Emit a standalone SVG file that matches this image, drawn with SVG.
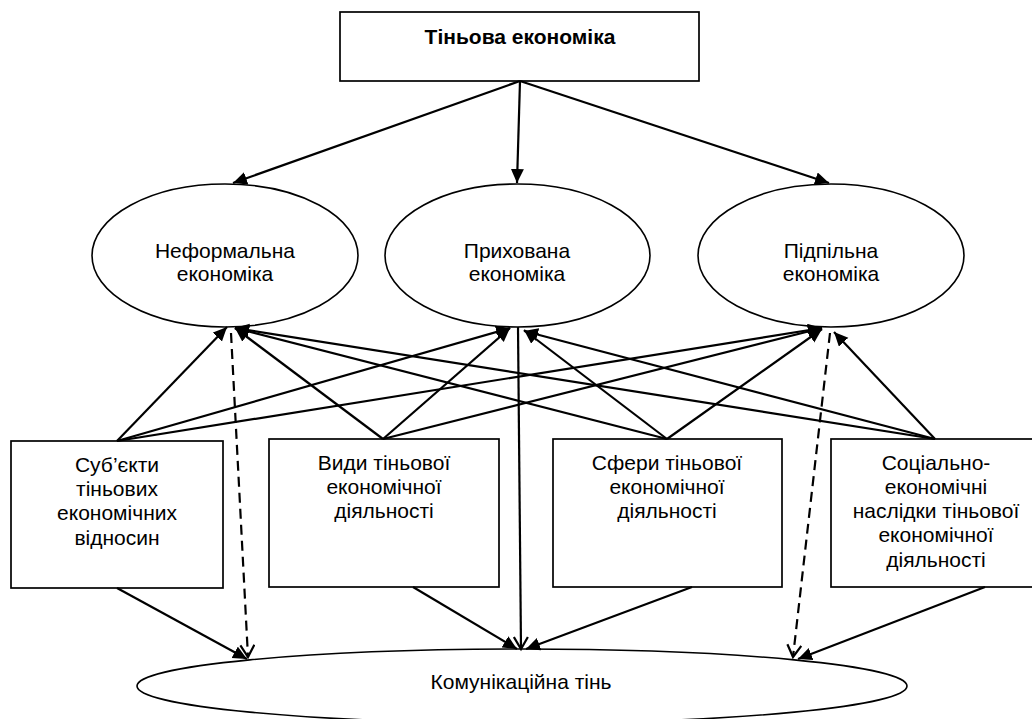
<svg xmlns="http://www.w3.org/2000/svg" width="1032" height="719" viewBox="0 0 1032 719">
<defs>
<style>
.box{fill:#fff;stroke:#000;stroke-width:1.7}
.ell{fill:#fff;stroke:#000;stroke-width:1.6}
.t{font-family:"Liberation Sans",Arial,sans-serif;font-size:21px;fill:#000;text-anchor:middle}
.b{font-weight:bold}
.c{fill:none;stroke:#000;stroke-width:2.2}
.d{stroke-dasharray:10 6}
</style>
<marker id="fa" markerUnits="userSpaceOnUse" markerWidth="16" markerHeight="14" refX="14" refY="6.5" orient="auto">
<path d="M0,0 L14,6.5 L0,13 z" fill="#000"/>
</marker>
<marker id="oa" markerUnits="userSpaceOnUse" markerWidth="16" markerHeight="16" refX="13" refY="8" orient="auto">
<path d="M1,1 L13,8 L1,15" fill="none" stroke="#000" stroke-width="2.2"/>
</marker>
</defs>
<rect width="1032" height="719" fill="#fff"/>

<g id="bottom-ellipse">
<ellipse class="ell" cx="522" cy="686" rx="385" ry="37"/>
<text class="t" x="521" y="689">Комунікаційна тінь</text>
</g>

<g id="top">
<rect class="box" x="340" y="12" width="359" height="69"/>
<text class="t b" x="520" y="44">Тіньова економіка</text>
</g>

<g id="informal">
<ellipse class="ell" cx="225" cy="255.5" rx="133" ry="71.5"/>
<text class="t" x="225" y="258">Неформальна</text>
<text class="t" x="225" y="281">економіка</text>
</g>
<g id="hidden">
<ellipse class="ell" cx="517.5" cy="255.5" rx="132.5" ry="71.5"/>
<text class="t" x="517" y="258">Прихована</text>
<text class="t" x="517" y="281">економіка</text>
</g>
<g id="underground">
<ellipse class="ell" cx="831" cy="255.5" rx="133" ry="71.5"/>
<text class="t" x="831" y="258">Підпільна</text>
<text class="t" x="831" y="281">економіка</text>
</g>

<g id="subjects">
<rect class="box" x="11" y="441" width="212" height="147"/>
<text class="t" x="117" y="472">Суб’єкти</text>
<text class="t" x="117" y="496">тіньових</text>
<text class="t" x="117" y="520">економічних</text>
<text class="t" x="117" y="545">відносин</text>
</g>
<g id="types">
<rect class="box" x="269" y="439" width="230" height="148"/>
<text class="t" x="384" y="470">Види тіньової</text>
<text class="t" x="384" y="494">економічної</text>
<text class="t" x="384" y="518">діяльності</text>
</g>
<g id="spheres">
<rect class="box" x="553" y="439" width="229" height="148"/>
<text class="t" x="667" y="470">Сфери тіньової</text>
<text class="t" x="667" y="494">економічної</text>
<text class="t" x="667" y="518">діяльності</text>
</g>
<g id="consequences">
<rect class="box" x="831" y="439" width="215" height="148"/>
<text class="t" x="936" y="470">Соціально-</text>
<text class="t" x="936" y="494">економічні</text>
<text class="t" x="936" y="518">наслідки тіньової</text>
<text class="t" x="936" y="542">економічної</text>
<text class="t" x="936" y="567">діяльності</text>
</g>

<g id="connectors">
<line class="c" x1="520" y1="81" x2="233" y2="183" marker-end="url(#fa)"/>
<line class="c" x1="520" y1="81" x2="517" y2="183" marker-end="url(#fa)"/>
<line class="c" x1="520" y1="81" x2="829" y2="183" marker-end="url(#fa)"/>

<line class="c" x1="117" y1="441" x2="227" y2="327" marker-end="url(#fa)"/>
<line class="c" x1="117" y1="441" x2="510" y2="328" marker-end="url(#fa)"/>
<line class="c" x1="117" y1="441" x2="822" y2="328" marker-end="url(#fa)"/>

<line class="c" x1="383" y1="439" x2="235" y2="328" marker-end="url(#fa)"/>
<line class="c" x1="383" y1="439" x2="510" y2="328" marker-end="url(#fa)"/>
<line class="c" x1="383" y1="439" x2="822" y2="328" marker-end="url(#fa)"/>

<line class="c" x1="667" y1="439" x2="235" y2="328" marker-end="url(#fa)"/>
<line class="c" x1="667" y1="439" x2="524" y2="330" marker-end="url(#fa)"/>
<line class="c" x1="667" y1="439" x2="822" y2="329" marker-end="url(#fa)"/>

<line class="c" x1="935" y1="439" x2="235" y2="328" marker-end="url(#fa)"/>
<line class="c" x1="935" y1="439" x2="524" y2="331" marker-end="url(#fa)"/>
<line class="c" x1="935" y1="439" x2="834" y2="332" marker-end="url(#fa)"/>

<line class="c" x1="518" y1="327" x2="521" y2="649" marker-end="url(#oa)"/>
<line class="c d" x1="231" y1="333" x2="248" y2="657" marker-end="url(#oa)"/>
<line class="c d" x1="830" y1="333" x2="793" y2="657" marker-end="url(#oa)"/>

<line class="c" x1="117" y1="588" x2="247" y2="659" marker-end="url(#fa)"/>
<line class="c" x1="413" y1="587" x2="517" y2="649" marker-end="url(#fa)"/>
<line class="c" x1="692" y1="587" x2="526" y2="649" marker-end="url(#fa)"/>
<line class="c" x1="985" y1="587" x2="798" y2="659" marker-end="url(#fa)"/>
</g>
</svg>
